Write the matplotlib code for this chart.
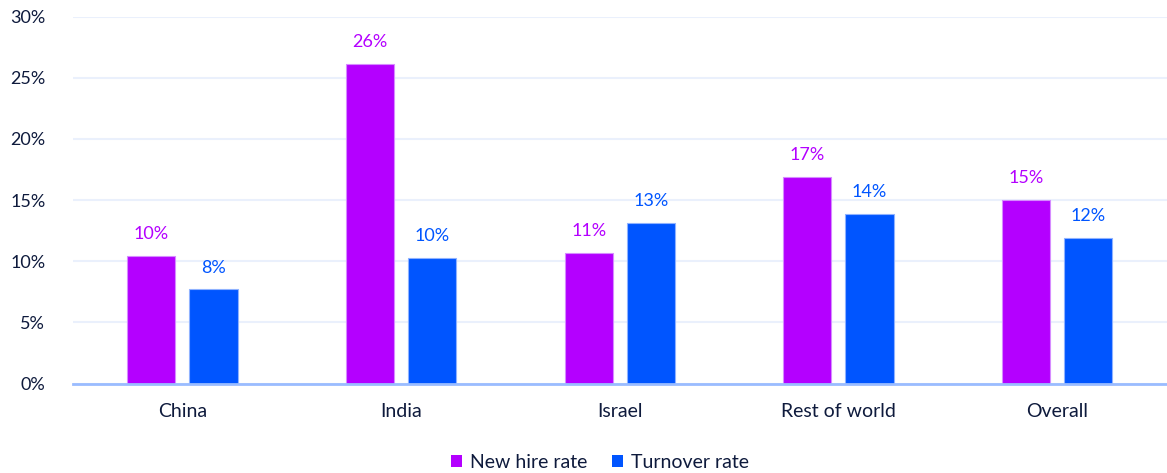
import matplotlib
matplotlib.use("Agg")
import matplotlib.pyplot as plt
import numpy as np
from matplotlib.patches import Patch

categories = ["China", "India", "Israel", "Rest of world", "Overall"]
new_hire = [10.4, 26.1, 10.7, 16.9, 15.0]
turnover = [7.7, 10.3, 13.1, 13.9, 11.9]
series_names = ["New hire rate", "Turnover rate"]
yticks = [0, 5, 10, 15, 20, 25, 30]

PURPLE = "#B400FF"
BLUE = "#0055FF"
TEXT = "#0E1A3C"
GRID = "#EAF0FC"
BASE = "#9ABCFF"

plt.rcParams["font.family"] = ["Lato", "DejaVu Sans"]

fig = plt.figure(figsize=(11.67, 4.73), dpi=100)
ax = fig.add_axes([0.0626, 0.189, 0.937, 0.776])

x = np.arange(len(categories))
w = 0.22
off = 0.142
b1 = ax.bar(x - off, new_hire, w, color=PURPLE, edgecolor="#D68CFF", linewidth=0.8, zorder=3)
b2 = ax.bar(x + off, turnover, w, color=BLUE, edgecolor="#8FB2FF", linewidth=0.8, zorder=3)

for bars, vals, col in ((b1, new_hire, PURPLE), (b2, turnover, BLUE)):
    for r, v in zip(bars, vals):
        ax.annotate(f"{v:.0f}%", (r.get_x() + r.get_width() / 2, v),
                    xytext=(0, 10), textcoords="offset points",
                    ha="center", va="bottom", color=col, fontsize=13)

ax.set_xlim(-0.5, len(categories) - 0.5)
ax.set_ylim(0, 30)
ax.set_yticks(yticks)
ax.set_yticklabels([f"{t}%" for t in yticks])
ax.set_xticks(x)
ax.set_xticklabels(categories)
ax.tick_params(axis="y", length=0, pad=20, labelsize=13, labelcolor=TEXT)
ax.tick_params(axis="x", length=0, pad=14, labelsize=14, labelcolor=TEXT)
ax.yaxis.grid(True, color=GRID, linewidth=1.5, zorder=0)
ax.set_axisbelow(True)
for s in ("top", "right", "left"):
    ax.spines[s].set_visible(False)
ax.spines["bottom"].set_color(BASE)
ax.spines["bottom"].set_linewidth(2)
ax.spines["bottom"].set_zorder(4)

handles = [Patch(facecolor=PURPLE), Patch(facecolor=BLUE)]
fig.legend(handles, series_names, loc="center", bbox_to_anchor=(0.514, 0.022),
           ncol=2, frameon=False, fontsize=14, labelcolor=TEXT,
           handlelength=0.55, handleheight=0.55, handletextpad=0.4, columnspacing=1.3)

fig.savefig("out.png", dpi=100, facecolor="white")
